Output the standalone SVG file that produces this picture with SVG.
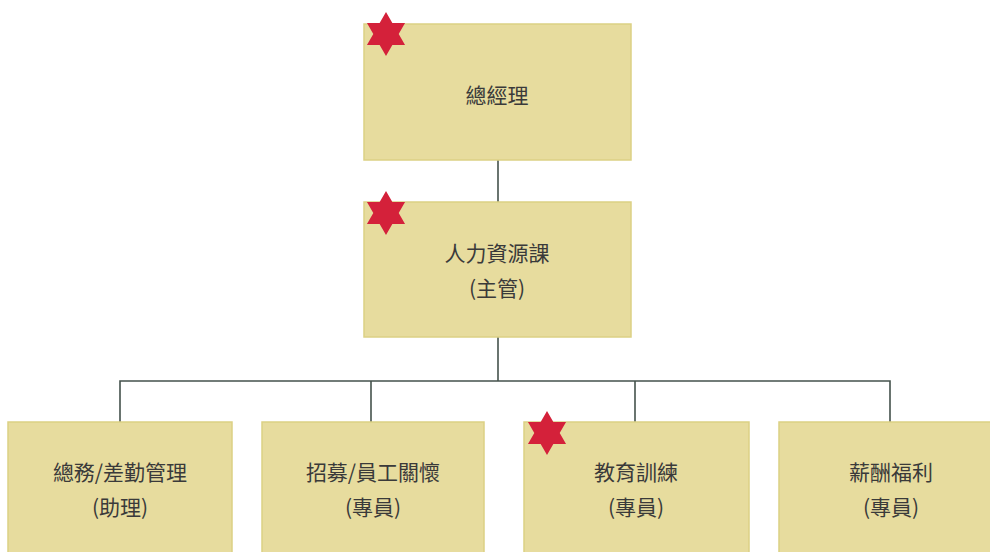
<svg xmlns="http://www.w3.org/2000/svg" xmlns:xlink="http://www.w3.org/1999/xlink" width="990" height="552" viewBox="0 0 990 552">
<style>
.box{fill:#e7dc9e;stroke:#dcd184;stroke-width:1.5}
.t{font-family:"Noto Sans CJK TC","Noto Sans CJK SC",sans-serif;font-size:21px;fill:#3a3a3a;text-anchor:middle}
.ln{stroke:#44524c;stroke-width:1.6;fill:none}
</style>
<defs>
<polygon id="star" fill="#d4213a" points="0,-22 6.35,-11 19.05,-11 12.7,0 19.05,11 6.35,11 0,22 -6.35,11 -19.05,11 -12.7,0 -19.05,-11 -6.35,-11"/>
</defs>
<rect width="990" height="552" fill="#ffffff"/>
<g id="connectors">
<line class="ln" x1="498" y1="160" x2="498" y2="202"/>
<line class="ln" x1="498" y1="337" x2="498" y2="381"/>
<polyline class="ln" points="120,422 120,381 890,381 890,422"/>
<line class="ln" x1="371" y1="381" x2="371" y2="422"/>
<line class="ln" x1="635" y1="381" x2="635" y2="422"/>
</g>
<g id="node-gm">
<rect class="box" x="364" y="24" width="267" height="136"/>
<use xlink:href="#star" x="386" y="34"/>
<text class="t" x="497" y="103">總經理</text>
</g>
<g id="node-hr">
<rect class="box" x="364" y="202" width="267" height="135"/>
<use xlink:href="#star" x="386" y="213"/>
<text class="t" x="497" y="261">人力資源課</text>
<text class="t" x="497" y="296">(主管)</text>
</g>
<g id="node-admin">
<rect class="box" x="8" y="422" width="224" height="140"/>
<text class="t" x="120" y="480">總務/差勤管理</text>
<text class="t" x="120" y="515">(助理)</text>
</g>
<g id="node-recruit">
<rect class="box" x="262" y="422" width="222" height="140"/>
<text class="t" x="373" y="480">招募/員工關懷</text>
<text class="t" x="373" y="515">(專員)</text>
</g>
<g id="node-training">
<rect class="box" x="524" y="422" width="225" height="140"/>
<use xlink:href="#star" x="547" y="433"/>
<text class="t" x="636" y="480">教育訓練</text>
<text class="t" x="636" y="515">(專員)</text>
</g>
<g id="node-comp">
<rect class="box" x="779" y="422" width="225" height="140"/>
<text class="t" x="891" y="480">薪酬福利</text>
<text class="t" x="891" y="515">(專員)</text>
</g>
</svg>
